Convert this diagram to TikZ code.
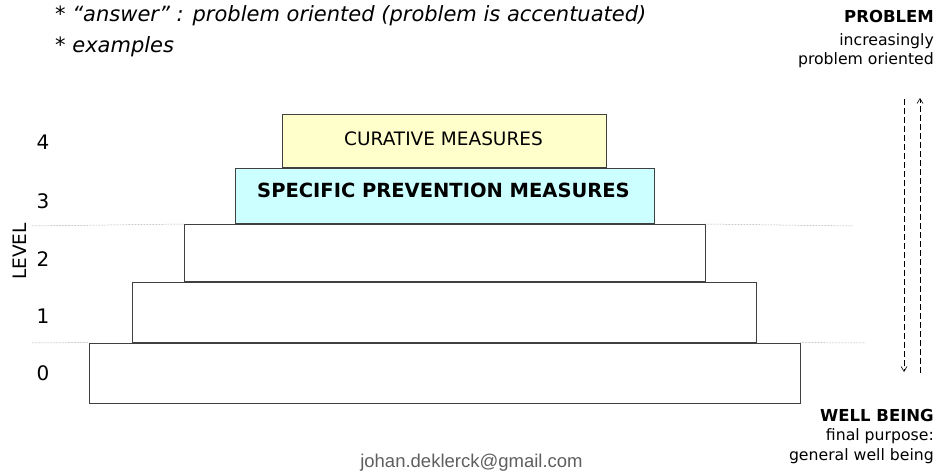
\documentclass[tikz,border=0pt]{standalone}
\usepackage{fontspec}
\setmainfont{DejaVu Sans}[ItalicFont={DejaVu Sans Oblique},BoldFont={DejaVu Sans Bold}]
\newfontfamily\mailfont{Liberation Sans}
\usetikzlibrary{positioning}
\usetikzlibrary{arrows.meta}
\definecolor{cure}{HTML}{FFFFCC}
\definecolor{prev}{HTML}{CCFFFF}
\definecolor{mailgray}{HTML}{5F5F5F}

\begin{document}
\begin{tikzpicture}[x=1pt,y=-1pt,>={Straight Barb[length=5pt,width=6pt]},node distance=0pt]
\tikzstyle{lvl}=[draw=black!75,line width=0.8pt,inner sep=0pt]
\tikzstyle{num}=[anchor=base,inner sep=0pt,font=\fontsize{20}{24}\selectfont]
\tikzstyle{side}=[anchor=base east,inner sep=0pt,font=\fontsize{15.7}{19}\selectfont]
\tikzstyle{note}=[anchor=base west,inner sep=0pt,font=\fontsize{21}{25}\selectfont\itshape]
\tikzstyle{guide}=[densely dotted,gray,line width=0.5pt]
\tikzstyle{flow}=[->,dash pattern=on 6pt off 3pt,line width=0.6pt]
\useasboundingbox (0,0) rectangle (940,473);
% the steps
\node[lvl,minimum width=711pt,minimum height=60pt]	(L0)	at (444.5,373)	{};
\node[lvl,minimum width=624pt,minimum height=60pt]	(L1)	[above=of L0]	{};
\node[lvl,minimum width=521pt,minimum height=57pt]	(L2)	[above=of L1]	{};
\node[lvl,fill=prev,minimum width=419pt,minimum height=55pt]	(L3)	[above=of L2]	{};
\node[lvl,fill=cure,minimum width=324pt,minimum height=53pt]	(L4)	[above=of L3]	{};
\node[anchor=base,inner sep=0pt,font=\fontsize{18.5}{22}\selectfont]	(cure)	at (443.5,146)	{CURATIVE MEASURES};
\node[anchor=base,inner sep=0pt,font=\fontsize{19.5}{23}\selectfont\bfseries]	(prev)	at (443.5,198)	{SPECIFIC PREVENTION MEASURES};
% level axis
\node[num]	(n4)	at (43,150)	{4};
\node[num]	(n3)	at (43,209)	{3};
\node[num]	(n2)	at (43,266.5)	{2};
\node[num]	(n1)	at (43,323)	{1};
\node[num]	(n0)	at (43,380)	{0};
\node[rotate=90,inner sep=0pt,font=\fontsize{18.5}{22}\selectfont]	(level)	at (20,251.5)	{LEVEL};
\coordinate	(g2a)	at (32,226);
\coordinate	(g2b)	at (853,226);
\coordinate	(g0a)	at (32,343);
\coordinate	(g0b)	at (866,343);
\draw[guide]	(g2a) -- (L2.north west);
\draw[guide]	(L2.north east) -- (g2b);
\draw[guide]	(g0a) -- (L0.north west);
\draw[guide]	(L0.north east) -- (g0b);
% notes
\node[note]	(ans)	at (55,21.7)	{* “answer” : problem oriented (problem is accentuated)};
\node[note]	(ex)	at (55,53)	{* examples};
\node[side,font=\fontsize{16.5}{19}\selectfont\bfseries]	(prob)	at (934,23)	{PROBLEM};
\node[side]	(incr)	at (934,46)	{increasingly};
\node[side]	(orie)	at (934,65)	{problem oriented};
\node[side,font=\fontsize{16.5}{19}\selectfont\bfseries]	(well)	at (934,421.5)	{WELL BEING};
\node[side]	(fina)	at (934,440)	{final purpose:};
\node[side]	(gene)	at (934,460)	{general well being};
\node[anchor=base,inner sep=0pt,text=mailgray,font=\fontsize{18.5}{22}\selectfont\mailfont]	(mail)	at (471.5,467)	{johan.deklerck@gmail.com};
% direction arrows
\coordinate	(dn1)	at (904,99);
\coordinate	(dn2)	at (904,372);
\coordinate	(up1)	at (920,373);
\coordinate	(up2)	at (920,98);
\draw[flow]	(dn1) -- (dn2);
\draw[flow]	(up1) -- (up2);
\end{tikzpicture}
\end{document}
